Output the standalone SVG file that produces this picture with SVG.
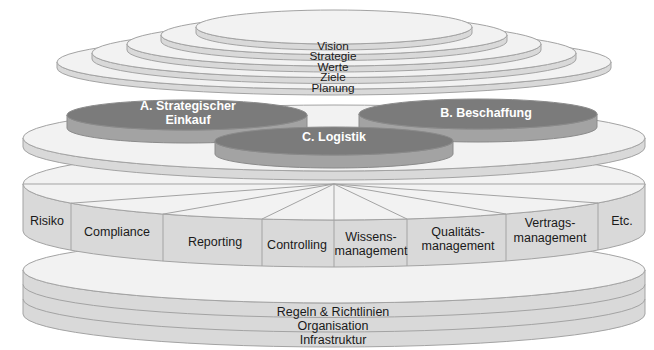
<svg xmlns="http://www.w3.org/2000/svg" width="654" height="350" viewBox="0 0 654 350">
<style>
.top{fill:#f2f2f2;stroke:#a3a3a3;stroke-width:1}
.side{fill:#d9d9d9;stroke:#a3a3a3;stroke-width:1}
.ln{fill:none;stroke:#a3a3a3;stroke-width:1}
.dtop{fill:#7b7b7b;stroke:#8a8a8a;stroke-width:1}
.dside{fill:#a3a3a3;stroke:#8a8a8a;stroke-width:1}
.t{font-family:"Liberation Sans",Arial,sans-serif;font-size:12.5px;fill:#1a1a1a;text-anchor:middle}
.s{font-family:"Liberation Sans",Arial,sans-serif;font-size:10.5px;fill:#1a1a1a;text-anchor:middle}
.w{font-family:"Liberation Sans",Arial,sans-serif;font-size:12.5px;font-weight:bold;fill:#ffffff;text-anchor:middle}
</style>
<rect width="654" height="350" fill="#ffffff"/>

<g id="base">
<path class="side" d="M23,270 L23,314 A311 33 0 0 0 645,314 L645,270 A311 33 0 0 1 23,270 Z"/>
<path class="ln" d="M23,284.5 A311 33 0 0 0 645,284.5"/>
<path class="ln" d="M23,299 A311 33 0 0 0 645,299"/>
<ellipse class="top" cx="334" cy="270" rx="311" ry="33"/>
<text class="t" x="333" y="316">Regeln &amp; Richtlinien</text>
<text class="t" x="333" y="330">Organisation</text>
<text class="t" x="333" y="344">Infrastruktur</text>
</g>

<g id="functions">
<path class="side" d="M23,184 L23,231 A311 36 0 0 0 645,231 L645,184 A311 36 0 0 1 23,184 Z"/>
<ellipse class="top" cx="334" cy="184" rx="311" ry="36"/>
<g class="ln">
<path d="M334,184 L23,184 M334,184 L71,203.2 M334,184 L163,214.1 M334,184 L262,219 M334,184 L334,220 M334,184 L407,219 M334,184 L506,214 M334,184 L598,203 M334,184 L645,184"/>
<path d="M71,203.2 V250.2 M163,214.1 V261.1 M262,219 V266 M334,220 V267 M407,219 V266 M506,214 V261 M598,203 V250"/>
</g>
<text class="t" x="47" y="224.5">Risiko</text>
<text class="t" x="117" y="236">Compliance</text>
<text class="t" x="215" y="245.5">Reporting</text>
<text class="t" x="297" y="248.5">Controlling</text>
<text class="t" x="371" y="241">Wissens-</text>
<text class="t" x="371" y="255">management</text>
<text class="t" x="458" y="236">Qualitäts-</text>
<text class="t" x="458" y="250">management</text>
<text class="t" x="550" y="227">Vertrags-</text>
<text class="t" x="550" y="242">management</text>
<text class="t" x="622" y="225">Etc.</text>
</g>

<g id="operations">
<path class="side" d="M23,138 L23,147 A311 33 0 0 0 645,147 L645,138 A311 33 0 0 1 23,138 Z"/>
<ellipse class="top" cx="334" cy="138" rx="311" ry="33"/>
</g>

<g id="a-einkauf">
<path class="dside" d="M67,115 L67,128 A120 15 0 0 0 307,128 L307,115 A120 15 0 0 1 67,115 Z"/>
<ellipse class="dtop" cx="187" cy="115" rx="120" ry="15"/>
<text class="w" x="188" y="110">A. Strategischer</text>
<text class="w" x="188" y="124">Einkauf</text>
</g>

<g id="b-beschaffung">
<path class="dside" d="M359,114 L359,127 A119 15 0 0 0 597,127 L597,114 A119 15 0 0 1 359,114 Z"/>
<ellipse class="dtop" cx="478" cy="114" rx="119" ry="15"/>
<text class="w" x="486" y="116.5">B. Beschaffung</text>
</g>

<g id="c-logistik">
<path class="dside" d="M215,141 L215,154 A119 14 0 0 0 453,154 L453,141 A119 14 0 0 1 215,141 Z"/>
<ellipse class="dtop" cx="334" cy="141" rx="119" ry="14"/>
<text class="w" x="334" y="141">C. Logistik</text>
</g>

<g id="stack">
<path class="side" d="M57,62 L57,68 A277 27 0 0 0 611,68 L611,62 A277 27 0 0 1 57,62 Z"/>
<ellipse class="top" cx="334" cy="62" rx="277" ry="27"/>
<path class="side" d="M92,53 L92,59 A242 24.5 0 0 0 576,59 L576,53 A242 24.5 0 0 1 92,53 Z"/>
<ellipse class="top" cx="334" cy="53" rx="242" ry="24.5"/>
<path class="side" d="M127,44 L127,50 A207 22 0 0 0 541,50 L541,44 A207 22 0 0 1 127,44 Z"/>
<ellipse class="top" cx="334" cy="44" rx="207" ry="22"/>
<path class="side" d="M161,35 L161,41 A173 19.5 0 0 0 507,41 L507,35 A173 19.5 0 0 1 161,35 Z"/>
<ellipse class="top" cx="334" cy="35" rx="173" ry="19.5"/>
<path class="side" d="M196,27 L196,33 A138 17 0 0 0 472,33 L472,27 A138 17 0 0 1 196,27 Z"/>
<ellipse class="top" cx="334" cy="27" rx="138" ry="17"/>
<text class="s" transform="translate(333,49.5) scale(1.12,1)" x="0" y="0">Vision</text>
<text class="s" transform="translate(333,60) scale(1.12,1)" x="0" y="0">Strategie</text>
<text class="s" transform="translate(333,70.5) scale(1.12,1)" x="0" y="0">Werte</text>
<text class="s" transform="translate(333,81) scale(1.12,1)" x="0" y="0">Ziele</text>
<text class="s" transform="translate(333,91.5) scale(1.12,1)" x="0" y="0">Planung</text>
</g>
</svg>
